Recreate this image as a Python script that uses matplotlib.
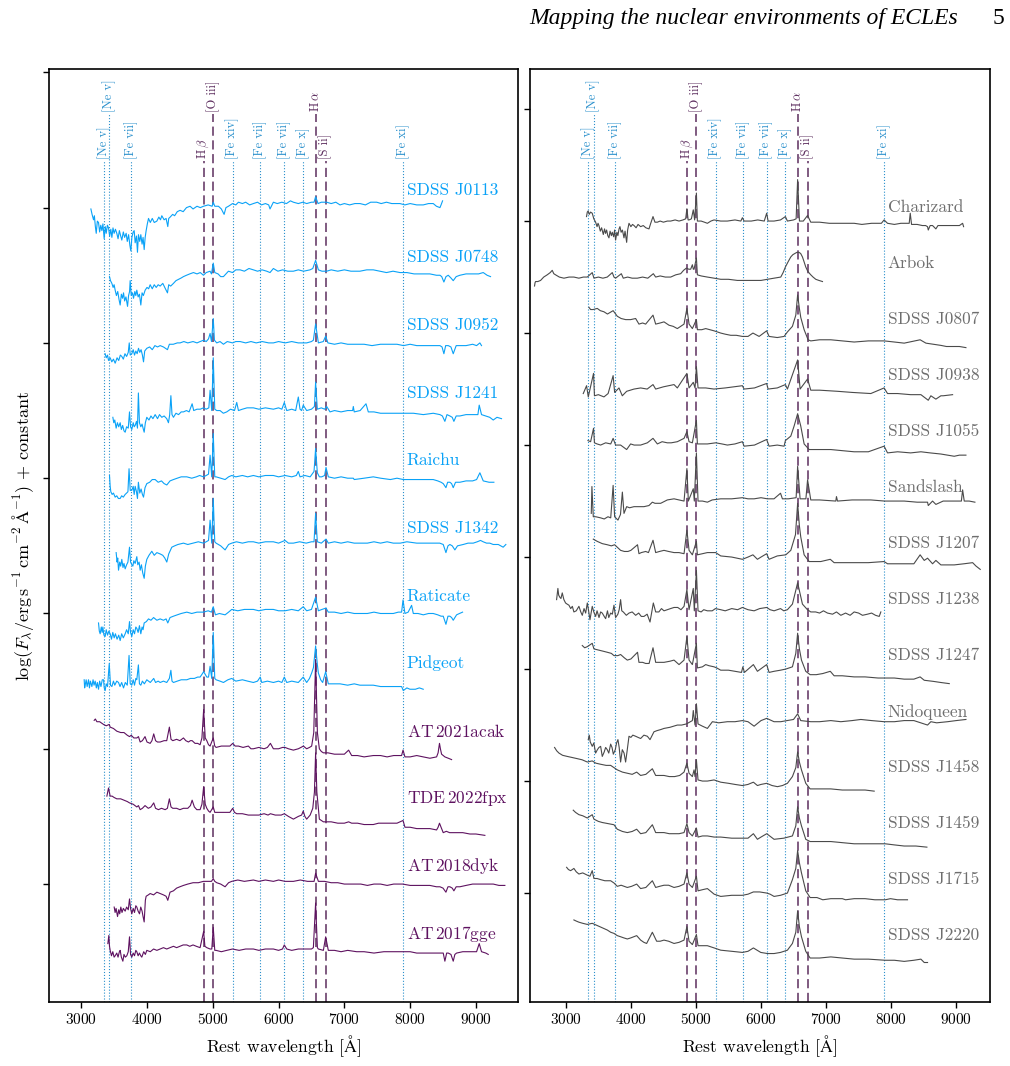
import numpy as np
import matplotlib.pyplot as plt
from matplotlib.ticker import MultipleLocator

plt.rcParams['font.family'] = 'serif'
plt.rcParams['font.serif'] = ['cmr10']
plt.rcParams['mathtext.fontset'] = 'cm'
plt.rcParams['axes.formatter.use_mathtext'] = True

# marked emission lines (rest wavelength, label, upper row?, strong line?)
line_wl = [3346, 3426, 3759, 4861, 5007, 5303, 5721, 6087, 6375, 6563, 6716, 7892]
line_names = ['[Ne v]', '[Ne v]', '[Fe vii]', r'H$\,\beta$', '[O iii]', '[Fe xiv]',
              '[Fe vii]', '[Fe vii]', '[Fe x]', r'H$\,\alpha$', '[S ii]', '[Fe xi]']
line_high = [0, 1, 0, 0, 1, 0, 0, 0, 0, 1, 0, 0]
line_strong = [0, 0, 0, 1, 1, 0, 0, 0, 0, 1, 1, 0]

# spectra: (rest wavelength [A], log flux in 0.01 dex relative to the offset)
j0113 = [(3147,-1),(3165,-5),(3187,-9),(3200,-6),(3215,-14),(3228,-19),(3245,-10),(3263,-11),(3280,-18),
         (3297,-13),(3314,-17),(3330,-12),(3349,-23),(3365,-14),(3380,-19),(3398,-13),(3415,-15),(3432,-21),
         (3450,-16),(3466,-22),(3483,-15),(3500,-19),(3520,-16),(3541,-19),(3560,-23),(3580,-17),(3600,-21),
         (3617,-24),(3640,-18),(3660,-22),(3683,-19),(3700,-25),(3720,-20),(3740,-28),(3754,-32),(3770,-22),
         (3790,-18),(3805,-17),(3820,-26),(3840,-21),(3855,-33),(3870,-20),(3890,-25),(3906,-20),(3925,-27),
         (3940,-22),(3957,-31),(3972,-22),(3987,-17),(4005,-12),(4023,-8),(4050,-11),(4080,-8),(4110,-11),
         (4149,-10),(4180,-7),(4205,-9),(4225,-6),(4260,-9),(4290,-8),(4316,-14),(4330,-8),(4352,-7),
         (4390,-5),(4420,-6),(4460,-3),(4503,-2),(4550,-3),(4600,0),(4655,1),(4700,-1),(4760,1),(4810,0),
         (4858,1),(4930,2),(4990,1),(5007,4),(5030,1),(5086,1),(5130,-1),(5172,-5),(5200,0),(5238,1),
         (5300,3),(5350,2),(5390,4),(5450,3),(5500,4),(5560,2),(5617,3),(5680,4),(5740,2),(5800,3),
         (5850,2),(5870,-1),(5890,1),(5921,4),(5980,3),(6050,4),(6120,3),(6180,5),(6225,4),(6300,3),
         (6370,4),(6427,3),(6500,4),(6539,4),(6563,8),(6600,3),(6650,4),(6731,4),(6800,3),(6870,4),
         (6934,2),(7000,3),(7080,2),(7160,3),(7237,3),(7320,2),(7400,4),(7491,4),(7560,3),(7640,4),
         (7720,3),(7800,3),(7845,3),(7920,2),(8000,3),(8100,2),(8199,2),(8280,3),(8351,3),(8400,1),
         (8453,0),(8470,2),(8493,5)]
j0748 = [(3430,-1),(3445,-4),(3466,-6),(3485,-9),(3500,-7),(3516,-11),(3535,-15),(3555,-12),(3575,-18),
         (3592,-22),(3610,-14),(3628,-17),(3643,-13),(3660,-19),(3680,-16),(3704,-23),(3720,-15),(3735,-12),
         (3744,-4),(3760,-15),(3780,-13),(3795,-17),(3815,-12),(3830,-15),(3845,-11),(3865,-16),(3885,-14),
         (3906,-22),(3925,-13),(3945,-15),(3972,-11),(4000,-9),(4025,-10),(4048,-7),(4080,-10),(4110,-7),
         (4140,-9),(4170,-7),(4200,-8),(4240,-6),(4280,-10),(4311,-13),(4330,-7),(4360,-8),(4402,-6),
         (4440,-4),(4480,-3),(4520,-2),(4554,-1),(4600,0),(4650,1),(4706,2),(4760,1),(4810,2),(4858,0),
         (4900,2),(4959,3),(4980,1),(5007,9),(5030,2),(5080,1),(5120,-1),(5162,-1),(5200,1),(5238,3),
         (5300,2),(5350,4),(5415,4),(5480,3),(5550,5),(5617,4),(5680,3),(5750,4),(5820,3),(5870,2),
         (5921,5),(5990,3),(6060,4),(6140,3),(6225,3),(6300,4),(6380,3),(6478,4),(6520,5),(6563,11),
         (6605,4),(6660,3),(6731,3),(6800,4),(6900,3),(7000,4),(7100,3),(7237,3),(7340,4),(7440,4),
         (7540,3),(7640,2),(7740,3),(7845,2),(7950,2),(8060,1),(8199,1),(8300,1),(8400,0),(8453,0),
         (8480,-1),(8513,-5),(8545,-1),(8579,0),(8620,-2),(8655,-4),(8700,-1),(8756,0),(8850,1),(8959,1),
         (9040,1),(9111,2),(9170,0),(9222,-1)]
j0952 = [(3364,-8),(3380,-11),(3400,-9),(3415,-13),(3440,-11),(3465,-14),(3490,-12),(3516,-15),(3545,-11),
         (3570,-13),(3595,-9),(3617,-10),(3640,-12),(3665,-8),(3690,-10),(3715,-7),(3730,0),(3745,-9),
         (3769,-8),(3790,-5),(3810,-9),(3830,-6),(3850,-8),(3871,-4),(3890,-7),(3910,-5),(3930,-9),
         (3947,-14),(3965,-6),(3997,-4),(4040,-3),(4080,-5),(4120,-2),(4160,-3),(4200,-2),(4250,-3),
         (4311,-5),(4340,-1),(4400,-1),(4460,0),(4503,0),(4560,1),(4620,0),(4700,1),(4760,0),(4807,1),
         (4861,2),(4900,1),(4935,3),(4959,7),(4980,1),(5007,18),(5025,2),(5060,0),(5110,1),(5162,-1),
         (5220,1),(5300,0),(5350,1),(5415,1),(5500,0),(5580,1),(5660,0),(5750,1),(5850,0),(5921,0),
         (6000,1),(6100,0),(6200,1),(6300,0),(6427,0),(6500,1),(6529,2),(6563,14),(6605,0),(6680,1),
         (6716,5),(6750,0),(6850,-1),(6950,0),(7050,-1),(7187,-1),(7300,-1),(7420,-2),(7550,-1),(7693,-1),
         (7800,-1),(7900,-2),(8000,-1),(8100,-2),(8199,-2),(8320,-2),(8453,-2),(8485,-3),(8513,-8),
         (8540,-2),(8579,-2),(8620,-3),(8655,-8),(8700,-2),(8756,-2),(8850,-2),(8950,-1),(9010,-2),
         (9060,0),(9085,-2)]
j1241 = [(3481,-5),(3495,-9),(3510,-7),(3531,-13),(3550,-9),(3570,-12),(3592,-9),(3610,-14),(3630,-11),
         (3650,-15),(3668,-16),(3690,-12),(3715,-13),(3734,-1),(3750,-12),(3769,-14),(3790,-9),(3805,-12),
         (3820,-11),(3840,-8),(3855,-13),(3869,13),(3885,-9),(3906,-12),(3925,-10),(3940,-13),(3957,-16),
         (3975,-9),(3997,-5),(4030,-7),(4060,-4),(4090,-6),(4124,-3),(4160,-6),(4190,-3),(4225,-5),
         (4260,-4),(4300,-6),(4326,-9),(4345,-3),(4363,11),(4380,-3),(4402,-5),(4440,-2),(4480,-3),
         (4520,-1),(4554,-1),(4600,0),(4640,-1),(4686,5),(4710,0),(4760,1),(4810,1),(4858,2),(4900,1),
         (4940,2),(4959,15),(4984,0),(5007,39),(5030,1),(5060,0),(5110,0),(5160,-2),(5212,-1),(5270,1),
         (5330,0),(5364,6),(5390,0),(5450,1),(5520,2),(5617,2),(5700,1),(5800,2),(5921,1),(6000,2),
         (6050,1),(6087,6),(6124,0),(6200,1),(6260,0),(6300,10),(6326,1),(6350,0),(6375,4),(6427,0),
         (6500,1),(6545,3),(6563,21),(6589,1),(6650,2),(6700,1),(6731,3),(6782,-1),(6850,0),(6950,-1),
         (7050,0),(7126,0),(7136,3),(7150,-1),(7240,0),(7329,5),(7364,-1),(7450,-1),(7550,-2),(7693,-2),
         (7800,-2),(7946,-2),(8050,-2),(8200,-3),(8351,-2),(8453,-3),(8490,-4),(8528,-8),(8560,-3),
         (8604,-4),(8640,-5),(8665,-8),(8700,-4),(8756,-4),(8850,-3),(8959,-3),(9030,-3),(9050,4),
         (9085,-3),(9150,-4),(9210,-5),(9263,-7),(9320,-5),(9389,-6)]
raichu = [(3430,2),(3440,-6),(3450,-10),(3470,-12),(3490,-11),(3516,-14),(3540,-13),(3565,-15),(3592,-15),
          (3615,-13),(3640,-14),(3668,-12),(3690,-11),(3710,-10),(3727,7),(3745,-9),(3769,-9),(3790,-6),
          (3805,-12),(3820,-6),(3840,-10),(3855,-15),(3869,-3),(3890,-11),(3910,-8),(3930,-12),(3947,-14),
          (3970,-7),(3997,-4),(4040,-3),(4080,-1),(4124,-1),(4170,-3),(4220,-2),(4260,-4),(4301,-5),
          (4350,-2),(4402,-1),(4460,0),(4520,1),(4605,1),(4680,0),(4750,1),(4800,2),(4858,1),(4900,2),
          (4935,3),(4959,17),(4984,1),(5007,33),(5030,1),(5050,1),(5120,0),(5187,-1),(5240,1),(5288,2),
          (5350,1),(5450,2),(5530,1),(5617,2),(5700,1),(5800,2),(5921,2),(6000,1),(6100,2),(6200,1),
          (6270,2),(6300,5),(6326,1),(6400,2),(6480,1),(6539,5),(6563,22),(6589,4),(6620,1),(6655,1),
          (6700,2),(6721,8),(6756,1),(6850,0),(6950,1),(7050,0),(7136,0),(7150,-1),(7300,0),(7440,1),
          (7550,0),(7700,-1),(7800,0),(7896,-1),(8000,-1),(8150,-1),(8351,-1),(8420,-2),(8470,-3),
          (8503,-4),(8544,-7),(8570,-3),(8604,-3),(8630,-4),(8655,-7),(8690,-3),(8756,-3),(8850,-2),
          (8950,-2),(9010,-1),(9060,4),(9111,-2),(9200,-3),(9273,-3)]
j1342 = [(3531,-5),(3545,-12),(3555,-9),(3567,-18),(3585,-12),(3600,-15),(3617,-10),(3635,-16),(3650,-13),
         (3668,-17),(3690,-14),(3710,-12),(3734,-1),(3750,-12),(3770,-14),(3785,-15),(3800,-11),(3820,-13),
         (3845,-8),(3860,-14),(3880,-12),(3896,-18),(3915,-14),(3935,-20),(3957,-24),(3975,-15),(3997,-10),
         (4030,-7),(4073,-4),(4110,-7),(4150,-5),(4200,-6),(4240,-7),(4270,-9),(4301,-12),(4330,-6),
         (4377,-1),(4420,0),(4470,1),(4554,2),(4620,1),(4700,2),(4780,3),(4858,2),(4900,3),(4935,4),
         (4959,19),(4984,2),(5007,35),(5030,3),(5050,2),(5120,0),(5187,-3),(5240,1),(5288,2),(5360,3),
         (5450,2),(5540,3),(5617,3),(5700,2),(5800,3),(5921,3),(6000,2),(6098,4),(6150,2),(6225,2),
         (6320,3),(6420,2),(6500,3),(6539,3),(6563,24),(6589,3),(6650,2),(6721,5),(6756,2),(6850,3),
         (6950,2),(7050,3),(7150,2),(7237,2),(7350,2),(7450,3),(7550,2),(7650,3),(7744,2),(7850,2),
         (7950,3),(8100,2),(8250,2),(8351,2),(8450,2),(8503,1),(8544,-5),(8575,0),(8604,1),(8640,0),
         (8680,-3),(8720,0),(8807,1),(8880,2),(8959,2),(9020,3),(9070,4),(9110,3),(9161,2),(9210,2),
         (9263,1),(9340,1),(9414,-1),(9455,1)]
raticate = [(3263,-7),(3275,-13),(3288,-15),(3305,-10),(3318,-14),(3329,-10),(3345,-16),(3364,-17),
            (3380,-12),(3400,-16),(3420,-13),(3440,-15),(3460,-19),(3480,-14),(3501,-18),(3520,-15),
            (3545,-19),(3570,-16),(3592,-20),(3615,-15),(3640,-18),(3668,-15),(3690,-12),(3715,-15),
            (3734,-6),(3750,-14),(3769,-17),(3790,-12),(3810,-15),(3830,-10),(3845,-11),(3865,-14),
            (3885,-9),(3906,-15),(3925,-10),(3940,-12),(3957,-7),(3990,-6),(4023,-4),(4060,-5),(4100,-3),
            (4150,-5),(4200,-4),(4250,-5),(4290,-4),(4316,-7),(4350,-3),(4402,-2),(4460,-1),(4520,0),
            (4605,1),(4680,0),(4760,1),(4858,1),(4930,2),(4980,1),(5007,5),(5040,-1),(5100,0),(5187,-1),
            (5240,1),(5288,3),(5380,2),(5480,3),(5617,3),(5700,2),(5800,3),(5921,3),(6000,2),(6098,2),
            (6200,3),(6300,2),(6375,5),(6427,2),(6500,3),(6563,12),(6605,2),(6660,3),(6721,4),(6756,1),
            (6850,1),(6950,0),(7050,1),(7150,0),(7237,0),(7350,0),(7450,1),(7550,0),(7650,0),(7744,0),
            (7820,1),(7870,1),(7892,10),(7921,0),(7970,1),(8022,6),(8048,0),(8120,0),(8200,-1),(8280,0),
            (8351,0),(8420,-1),(8470,-2),(8503,-2),(8544,-8),(8575,-2),(8604,-2),(8630,-3),(8655,-5),
            (8706,-1),(8750,0),(8797,1)]
pidgeot = [(3045,1),(3052,-5),(3060,-3),(3075,1),(3090,-4),(3111,1),(3125,-5),(3140,0),(3162,-4),(3180,1),
           (3195,-3),(3212,0),(3230,-5),(3245,-1),(3263,-6),(3280,0),(3300,-4),(3320,1),(3339,1),(3350,-5),
           (3364,-7),(3380,-2),(3400,-4),(3426,13),(3445,-3),(3466,-4),(3490,0),(3510,-3),(3540,0),(3567,-1),
           (3590,-4),(3615,-1),(3643,-5),(3670,-1),(3700,-3),(3727,19),(3745,-2),(3769,-3),(3790,1),
           (3810,-3),(3830,2),(3845,1),(3869,12),(3885,-2),(3906,-3),(3930,0),(3960,-2),(3997,1),(4050,-1),
           (4102,2),(4130,-1),(4170,0),(4200,-1),(4250,0),(4300,-1),(4340,2),(4363,8),(4380,0),(4402,-1),
           (4460,0),(4520,1),(4605,1),(4660,2),(4720,2),(4770,3),(4807,3),(4835,5),(4861,7),(4885,5),
           (4909,3),(4935,3),(4959,11),(4984,2),(5007,36),(5030,2),(5050,1),(5110,0),(5162,-1),(5230,1),
           (5288,2),(5350,0),(5450,1),(5530,0),(5617,-1),(5680,0),(5721,3),(5744,-1),(5830,0),(5921,-1),
           (6000,0),(6050,-1),(6087,3),(6124,-1),(6200,0),(6300,-1),(6375,3),(6427,-1),(6470,2),(6503,6),
           (6530,10),(6563,26),(6590,12),(6605,6),(6640,1),(6670,-1),(6716,7),(6756,-2),(6850,-2),
           (6934,-2),(7050,-3),(7150,-2),(7237,-3),(7350,-3),(7440,-3),(7550,-4),(7693,-4),(7780,-4),
           (7870,-4),(7896,-7),(7950,-5),(7997,-6),(8080,-6),(8140,-5),(8199,-6)]
at2021acak = [(3197,21),(3215,22),(3238,20),(3280,20),(3339,18),(3380,17),(3426,18),(3440,16),(3490,15),
              (3541,13),(3600,12),(3650,12),(3700,10),(3734,9),(3760,10),(3800,8),(3845,8),(3870,9),
              (3896,5),(3930,6),(3970,9),(4000,5),(4048,4),(4075,6),(4102,11),(4130,6),(4159,5),(4200,5),
              (4260,6),(4300,6),(4340,16),(4365,7),(4392,6),(4450,7),(4500,6),(4554,8),(4590,6),(4630,5),
              (4660,6),(4686,6),(4730,4),(4770,4),(4807,3),(4835,8),(4861,29),(4885,8),(4909,6),(4935,3),
              (4959,2),(5007,8),(5030,2),(5050,1),(5130,2),(5212,2),(5260,2),(5303,4),(5340,2),(5390,2),
              (5460,1),(5541,2),(5580,0),(5617,0),(5700,1),(5780,0),(5830,1),(5876,4),(5921,0),(6000,0),
              (6060,1),(6098,1),(6150,0),(6225,-1),(6300,0),(6340,1),(6377,2),(6427,0),(6470,1),(6503,2),
              (6535,12),(6563,66),(6590,12),(6620,0),(6650,-2),(6681,-3),(6750,-3),(6850,-4),(6934,-4),
              (7000,-4),(7065,-1),(7111,-5),(7200,-5),(7300,-6),(7440,-5),(7550,-5),(7650,-6),(7750,-5),
              (7870,-5),(7892,-1),(7921,-6),(8000,-6),(8100,-5),(8199,-6),(8300,-7),(8402,-6),(8425,-3),
              (8446,4),(8460,0),(8478,-4),(8528,-6),(8580,-7),(8630,-8)]
tde2022fpx = [(3390,15),(3415,21),(3440,15),(3470,15),(3500,14),(3541,13),(3600,13),(3650,12),(3700,11),
              (3734,10),(3790,9),(3845,7),(3870,8),(3896,5),(3930,6),(3970,8),(4020,6),(4060,7),(4102,10),
              (4130,6),(4174,5),(4220,6),(4276,5),(4310,6),(4340,13),(4365,7),(4392,6),(4450,6),(4500,5),
              (4554,6),(4620,6),(4660,8),(4686,12),(4720,7),(4757,5),(4807,5),(4835,9),(4861,22),(4885,9),
              (4909,6),(4935,4),(4959,3),(5007,7),(5030,3),(5050,3),(5130,3),(5212,3),(5260,3),(5303,6),
              (5330,3),(5364,2),(5450,2),(5540,1),(5617,1),(5700,1),(5780,2),(5840,1),(5876,2),(5950,1),
              (6040,1),(6087,2),(6150,0),(6225,-2),(6300,0),(6350,1),(6375,4),(6400,0),(6427,-2),(6480,1),
              (6520,6),(6545,18),(6563,47),(6582,18),(6605,6),(6620,-2),(6681,-4),(6800,-4),(6900,-5),
              (7000,-5),(7065,-4),(7111,-5),(7200,-5),(7300,-6),(7440,-6),(7520,-5),(7617,-5),(7700,-5),
              (7800,-5),(7892,-3),(7921,-8),(8000,-8),(8100,-9),(8199,-9),(8300,-9),(8402,-10),(8425,-8),
              (8446,-5),(8470,-8),(8503,-12),(8550,-11),(8600,-12),(8706,-12),(8800,-12),(8908,-13),
              (9000,-13),(9136,-14)]
at2018dyk = [(3501,-17),(3515,-21),(3530,-18),(3552,-24),(3570,-19),(3585,-22),(3602,-17),(3620,-21),
             (3640,-18),(3668,-20),(3690,-17),(3715,-19),(3734,-11),(3750,-18),(3769,-22),(3790,-18),
             (3810,-21),(3830,-16),(3845,-17),(3865,-20),(3886,-22),(3905,-17),(3925,-20),(3940,-24),
             (3957,-28),(3975,-12),(3987,-9),(4020,-8),(4048,-7),(4100,-8),(4150,-6),(4200,-7),(4250,-8),
             (4290,-9),(4316,-12),(4350,-6),(4402,-5),(4450,-3),(4500,-2),(4554,-1),(4620,0),(4700,1),
             (4780,1),(4858,2),(4930,2),(4980,2),(5007,4),(5030,2),(5060,1),(5120,0),(5187,-2),(5240,1),
             (5288,2),(5380,3),(5480,2),(5617,3),(5700,2),(5800,3),(5921,2),(6000,3),(6100,2),(6225,2),
             (6330,3),(6440,2),(6540,2),(6563,8),(6605,2),(6700,2),(6800,1),(6900,1),(7000,0),(7136,0),
             (7250,0),(7350,-1),(7450,0),(7550,0),(7650,-1),(7750,0),(7886,0),(8000,-1),(8100,-1),(8199,-1),
             (8300,-1),(8400,-2),(8453,-2),(8500,-3),(8544,-6),(8575,-2),(8604,-2),(8640,-3),(8665,-5),
             (8700,-2),(8756,-2),(8850,-1),(8950,0),(9060,0),(9150,0),(9263,0),(9350,-1),(9440,-1)]
at2017gge = [(3405,6),(3420,12),(3430,4),(3440,1),(3460,-3),(3480,0),(3500,-4),(3516,-3),(3540,-1),
             (3560,-4),(3580,0),(3592,1),(3610,-4),(3633,-7),(3650,-2),(3670,-4),(3693,-3),(3715,0),
             (3734,11),(3750,-2),(3769,-4),(3790,-1),(3810,-3),(3830,1),(3845,0),(3865,-3),(3885,-1),
             (3905,-3),(3921,-4),(3950,0),(3975,-2),(3997,1),(4050,0),(4100,2),(4150,1),(4200,2),(4250,3),
             (4300,2),(4350,3),(4402,4),(4450,3),(4500,4),(4550,5),(4605,5),(4650,4),(4700,5),(4750,4),
             (4807,3),(4861,15),(4880,4),(4909,3),(4959,2),(4985,2),(5007,18),(5030,1),(5050,1),(5130,0),
             (5212,1),(5300,2),(5400,1),(5500,2),(5617,2),(5700,1),(5800,2),(5921,2),(6000,1),(6060,2),
             (6087,5),(6124,2),(6200,1),(6300,2),(6427,2),(6500,2),(6529,3),(6563,36),(6590,3),(6605,2),
             (6681,1),(6716,11),(6756,1),(6850,1),(6950,0),(7050,1),(7187,0),(7300,0),(7450,-1),(7600,0),
             (7750,0),(7886,0),(8000,0),(8100,-1),(8199,-1),(8300,-1),(8400,-1),(8503,-1),(8528,-7),
             (8555,-1),(8579,-1),(8620,-2),(8655,-7),(8680,-2),(8706,-1),(8800,0),(8900,0),(9010,0),
             (9050,6),(9085,0),(9150,-1),(9187,-2)]

charizard = [(3318,4),(3330,8),(3343,9),(3360,6),(3380,8),(3406,7),(3430,2),(3458,-1),(3480,-5),(3495,-2),
             (3509,-4),(3530,-9),(3550,-6),(3576,-12),(3595,-7),(3610,-11),(3627,-8),(3645,-13),(3663,-15),
             (3680,-9),(3700,-13),(3714,-10),(3735,-14),(3750,-8),(3765,-17),(3785,-10),(3800,-13),
             (3818,-7),(3832,-5),(3850,-10),(3870,-8),(3894,-15),(3910,-9),(3935,-19),(3950,-8),(3971,-2),
             (4000,-5),(4025,-3),(4048,-4),(4080,-6),(4110,-3),(4150,-5),(4190,-4),(4230,-6),(4278,-7),
             (4305,-2),(4340,4),(4370,-1),(4407,-1),(4450,0),(4500,-1),(4560,0),(4612,0),(4680,1),(4740,0),
             (4800,1),(4842,2),(4861,11),(4880,1),(4894,1),(4930,2),(4959,10),(4980,1),(5007,25),(5022,0),
             (5080,0),(5130,-1),(5176,-2),(5230,0),(5278,1),(5380,0),(5483,0),(5600,1),(5690,0),(5714,3),
             (5740,0),(5850,0),(5950,1),(6050,0),(6087,7),(6109,0),(6200,0),(6300,1),(6375,4),(6406,0),
             (6500,1),(6540,2),(6563,37),(6591,0),(6650,0),(6716,5),(6765,-1),(6900,-1),(7050,-2),
             (7176,-2),(7300,-2),(7432,-2),(7550,-3),(7700,-2),(7850,-2),(7892,1),(7945,-2),(8050,-3),
             (8150,-2),(8278,-2),(8294,7),(8314,-3),(8400,-3),(8480,-4),(8530,-4),(8560,-5),(8571,-8),
             (8600,-4),(8637,-4),(8688,-7),(8720,-4),(8765,-4),(8850,-4),(8970,-4),(9050,-4),(9099,-2),
             (9114,-5)]
arbok = [(2519,-8),(2527,-5),(2535,-4),(2570,-4),(2612,-3),(2660,0),(2714,2),(2760,4),(2791,6),(2815,3),
         (2842,2),(2900,0),(2971,-1),(3050,0),(3124,0),(3200,-1),(3270,0),(3330,0),(3406,4),(3432,-1),
         (3500,0),(3570,-1),(3637,0),(3714,4),(3740,0),(3765,-1),(3853,3),(3883,-1),(3950,0),(4020,-1),
         (4099,-1),(4180,0),(4260,-1),(4345,3),(4381,0),(4450,1),(4530,0),(4612,0),(4690,2),(4765,3),
         (4810,6),(4853,8),(4890,7),(4919,7),(4945,11),(4960,7),(4971,7),(5007,17),(5022,2),(5080,1),
         (5176,0),(5280,-1),(5381,-2),(5500,-2),(5637,-3),(5760,-3),(5894,-3),(6000,-3),(6099,-2),
         (6200,-1),(6304,0),(6340,4),(6375,9),(6420,14),(6458,18),(6490,20),(6519,21),(6550,22),(6586,22),
         (6610,21),(6637,18),(6660,14),(6688,9),(6720,5),(6765,2),(6800,0),(6842,-2),(6890,-3),(6945,-4)]
j0807 = [(3355,23),(3381,21),(3420,21),(3483,22),(3530,20),(3586,19),(3640,17),(3727,20),(3791,15),
         (3850,13),(3920,12),(3996,12),(4073,13),(4124,8),(4180,9),(4227,8),(4340,16),(4381,8),(4450,9),
         (4509,10),(4586,7),(4650,6),(4714,4),(4817,8),(4861,22),(4894,8),(4945,4),(5007,12),(5022,3),
         (5090,3),(5150,4),(5278,2),(5381,0),(5450,-1),(5535,-2),(5620,-2),(5714,-3),(5800,-3),(5876,0),
         (5971,-3),(6087,2),(6124,-3),(6250,-4),(6355,-3),(6406,1),(6483,6),(6535,16),(6563,34),(6590,22),
         (6611,14),(6663,3),(6724,-6),(6765,-7),(6900,-6),(7073,-6),(7250,-7),(7432,-8),(7650,-7),
         (7894,-7),(8050,-8),(8201,-9),(8446,-6),(8535,-9),(8650,-10),(8765,-11),(8850,-12),(8970,-12),
         (9050,-12),(9150,-13)]
j0938 = [(3268,-4),(3319,3),(3345,-7),(3426,14),(3440,-6),(3500,-5),(3586,-7),(3650,-4),(3727,12),(3750,-3),
         (3817,1),(3868,-6),(3935,-2),(4048,0),(4150,1),(4250,0),(4340,4),(4381,0),(4500,2),(4663,4),
         (4714,1),(4861,14),(4894,1),(4959,6),(4986,1),(5007,20),(5032,1),(5150,1),(5278,0),(5450,1),
         (5714,3),(5740,0),(5900,1),(6087,5),(6109,0),(6250,1),(6375,4),(6406,0),(6563,26),(6601,0),
         (6716,9),(6765,-1),(6900,-1),(7176,-2),(7400,-3),(7688,-4),(7892,1),(7945,-4),(8100,-4),(8300,-5),
         (8458,-5),(8571,-10),(8611,-6),(8688,-9),(8765,-6),(8800,-6),(8945,-5)]
j1055 = [(3340,4),(3381,3),(3426,15),(3440,2),(3480,1),(3535,0),(3612,2),(3690,1),(3727,6),(3765,0),
         (3842,0),(3935,-4),(3996,1),(4050,0),(4150,0),(4253,2),(4340,6),(4407,1),(4480,3),(4560,2),
         (4620,2),(4714,3),(4817,6),(4861,12),(4894,3),(4945,2),(5007,22),(5022,1),(5100,1),(5176,1),
         (5304,2),(5400,1),(5483,0),(5600,1),(5714,3),(5740,-1),(5900,0),(6087,5),(6124,-1),(6250,0),
         (6355,-1),(6375,4),(6458,8),(6509,17),(6563,28),(6611,17),(6663,1),(6740,-4),(6900,-4),(7073,-4),
         (7250,-5),(7432,-6),(7650,-6),(7892,-1),(7945,-7),(8100,-6),(8300,-7),(8458,-6),(8600,-7),
         (8765,-8),(8970,-10),(9050,-9),(9150,-9)]
sandslash = [(3391,-11),(3401,13),(3422,-14),(3460,-14),(3535,-15),(3590,-16),(3648,-14),(3690,-15),
             (3727,14),(3750,-14),(3801,-17),(3840,-12),(3869,8),(3894,-11),(3935,-5),(3980,-6),(4048,-5),
             (4110,-5),(4201,-5),(4278,-4),(4330,-1),(4370,-2),(4458,-2),(4560,1),(4663,2),(4740,1),
             (4817,0),(4861,29),(4883,0),(4959,11),(4975,0),(5007,43),(5032,0),(5100,0),(5176,-1),
             (5250,1),(5381,2),(5550,2),(5714,3),(5800,2),(5894,2),(6000,3),(6099,2),(6200,2),(6300,7),
             (6329,2),(6420,2),(6540,3),(6563,31),(6601,2),(6690,2),(6716,19),(6765,1),(6900,1),(7150,0),
             (7160,4),(7176,0),(7400,1),(7688,1),(7900,0),(8201,0),(8400,-1),(8560,-1),(8571,-4),(8637,0),
             (8688,-3),(8800,0),(8970,0),(9080,0),(9099,10),(9124,0),(9200,0),(9288,-1)]
j1207 = [(3422,16),(3483,14),(3560,12),(3637,11),(3700,10),(3750,11),(3842,6),(3900,5),(3955,5),(4000,6),
         (4102,11),(4124,3),(4160,4),(4227,5),(4270,4),(4340,15),(4381,4),(4440,5),(4509,6),(4580,5),
         (4663,4),(4740,4),(4817,3),(4861,24),(4894,6),(4945,2),(5007,14),(5022,2),(5100,3),(5176,4),
         (5250,4),(5304,4),(5381,1),(5550,0),(5714,-2),(5800,0),(5876,2),(5945,-2),(6000,0),(6087,3),
         (6124,-2),(6250,1),(6381,2),(6458,6),(6530,20),(6563,48),(6590,28),(6611,18),(6663,2),(6740,-4),
         (6840,-4),(6919,-4),(7065,-2),(7124,-5),(7250,-5),(7432,-5),(7650,-5),(7892,-4),(7945,-6),
         (8050,-6),(8201,-6),(8350,-6),(8446,2),(8509,-3),(8560,-1),(8637,-6),(8688,-3),(8765,-7),
         (8850,-7),(8970,-7),(9120,-6),(9253,-5),(9304,-8),(9370,-11)]
j1238 = [(2858,12),(2878,22),(2890,16),(2909,14),(2925,13),(2945,18),(2970,12),(2996,9),(3020,8),(3048,7),
         (3075,4),(3100,6),(3124,1),(3160,2),(3201,6),(3230,1),(3253,-2),(3280,4),(3305,0),(3330,9),
         (3350,2),(3371,-6),(3406,6),(3430,1),(3458,-3),(3480,2),(3510,-4),(3535,1),(3560,0),(3590,-3),
         (3612,-5),(3640,2),(3660,-4),(3689,0),(3715,-1),(3740,7),(3765,-4),(3800,-1),(3820,3),(3842,12),
         (3860,2),(3883,1),(3930,-2),(3971,0),(4020,1),(4073,-2),(4120,0),(4160,-3),(4201,-3),(4250,-1),
         (4294,-8),(4345,9),(4381,1),(4430,1),(4470,4),(4509,2),(4560,3),(4610,4),(4663,5),(4720,5),
         (4770,3),(4817,6),(4861,21),(4894,3),(4959,22),(4975,2),(5007,38),(5032,2),(5080,1),(5120,3),
         (5176,2),(5250,2),(5300,4),(5381,3),(5450,2),(5550,4),(5640,3),(5714,5),(5800,3),(5894,2),
         (5980,4),(6087,5),(6140,3),(6201,2),(6300,4),(6350,2),(6406,3),(6483,8),(6563,27),(6637,8),
         (6714,3),(6765,1),(6840,1),(6900,0),(6960,2),(7022,0),(7100,-1),(7160,1),(7227,-2),(7300,0),
         (7370,-2),(7432,1),(7500,0),(7560,-2),(7637,-1),(7700,0),(7760,-2),(7817,-3),(7842,1)]
j1247 = [(3253,21),(3290,19),(3330,20),(3406,23),(3432,18),(3500,17),(3570,16),(3637,15),(3700,14),
         (3740,12),(3800,12),(3842,13),(3900,10),(3945,8),(4000,9),(4102,15),(4124,6),(4180,6),(4227,5),
         (4280,5),(4340,19),(4381,6),(4440,6),(4509,6),(4600,7),(4663,8),(4740,4),(4817,8),(4861,29),
         (4894,8),(4945,4),(5007,23),(5022,1),(5100,2),(5150,4),(5200,3),(5278,2),(5320,1),(5381,-1),
         (5500,-1),(5600,-2),(5700,-3),(5721,2),(5745,-3),(5883,4),(5945,-2),(6087,4),(6124,-3),(6200,-2),
         (6300,-1),(6381,0),(6483,2),(6535,14),(6563,32),(6590,18),(6622,8),(6688,-2),(6755,-5),(6850,-5),
         (6950,-4),(7065,-2),(7124,-6),(7250,-6),(7432,-7),(7600,-7),(7800,-8),(7909,-8),(8050,-8),
         (8201,-9),(8350,-9),(8446,-7),(8509,-10),(8650,-11),(8765,-12),(8894,-13)]
nidoqueen = [(3345,-13),(3360,-9),(3375,-15),(3406,-19),(3430,-16),(3458,-25),(3485,-22),(3509,-20),
             (3535,-19),(3560,-28),(3590,-24),(3612,-20),(3637,-22),(3660,-25),(3689,-17),(3710,-20),
             (3730,-26),(3760,-22),(3780,-16),(3801,-13),(3820,-20),(3842,-33),(3868,-22),(3895,-25),
             (3919,-33),(3940,-24),(3971,-10),(4000,-11),(4030,-9),(4073,-10),(4110,-11),(4150,-12),
             (4200,-9),(4253,-10),(4294,-13),(4355,-6),(4400,-5),(4460,-4),(4509,-3),(4600,-2),(4714,0),
             (4780,0),(4853,1),(4945,4),(4959,13),(4986,0),(5007,19),(5032,1),(5100,-1),(5176,-3),(5253,3),
             (5350,2),(5483,3),(5600,3),(5714,4),(5800,3),(5894,-1),(6000,4),(6088,6),(6200,3),(6304,3),
             (6400,4),(6500,5),(6563,10),(6611,4),(6765,3),(6900,3),(7073,4),(7227,3),(7400,4),(7535,5),
             (7700,4),(7894,3),(8050,3),(8201,4),(8350,4),(8560,0),(8611,3),(8700,2),(8868,3),(9000,4),
             (9150,5)]
j1458 = [(2827,30),(2860,27),(2894,25),(2950,23),(3022,22),(3100,21),(3176,20),(3250,19),(3330,17),
         (3406,18),(3460,16),(3535,15),(3620,14),(3689,14),(3740,12),(3791,10),(3870,8),(3945,7),(4020,6),
         (4089,8),(4150,5),(4230,6),(4330,11),(4381,5),(4440,5),(4509,5),(4590,4),(4673,4),(4750,5),
         (4817,8),(4861,16),(4894,7),(4945,4),(4971,10),(4986,4),(5007,19),(5032,1),(5100,0),(5176,0),
         (5278,1),(5330,0),(5381,-1),(5500,-2),(5600,-3),(5714,-4),(5800,-3),(5883,-1),(5945,-4),(6000,-3),
         (6088,-2),(6170,-4),(6253,-5),(6330,-4),(6406,-2),(6483,4),(6535,12),(6563,26),(6590,17),(6622,10),
         (6688,-2),(6755,-7),(6900,-7),(7073,-7),(7250,-8),(7432,-8),(7600,-8),(7740,-9)]
j1459 = [(3114,24),(3150,22),(3201,20),(3260,19),(3330,17),(3406,20),(3432,16),(3500,14),(3560,13),(3650,12),
         (3740,11),(3791,7),(3870,5),(3945,4),(4020,5),(4089,7),(4150,3),(4230,4),(4330,11),(4381,4),
         (4440,4),(4509,4),(4590,3),(4663,3),(4740,3),(4817,4),(4861,12),(4894,4),(4945,1),(5007,8),
         (5032,0),(5100,1),(5176,1),(5280,0),(5381,0),(5550,-1),(5714,-1),(5800,-1),(5883,3),(5945,-2),
         (6000,0),(6088,3),(6201,-2),(6350,-1),(6483,1),(6535,10),(6563,27),(6590,17),(6622,10),(6688,-2),
         (6755,-4),(6900,-4),(7073,-4),(7250,-5),(7432,-6),(7650,-6),(7909,-6),(8050,-7),(8201,-8),
         (8380,-8),(8550,-9)]
j1715 = [(3012,23),(3040,21),(3073,20),(3100,21),(3124,22),(3160,19),(3201,17),(3260,18),(3330,16),
         (3370,15),(3406,20),(3432,13),(3480,13),(3535,12),(3600,11),(3689,11),(3740,9),(3791,6),(3850,7),
         (3945,5),(4010,6),(4089,8),(4150,4),(4230,5),(4330,11),(4381,5),(4440,6),(4509,7),(4580,7),
         (4663,5),(4740,6),(4817,8),(4861,18),(4894,8),(4945,5),(5007,15),(5032,2),(5100,3),(5176,4),
         (5280,-1),(5381,-3),(5550,-2),(5714,-2),(5800,-1),(5883,1),(5980,1),(6088,0),(6140,-1),(6201,-3),
         (6300,-2),(6406,0),(6483,12),(6535,22),(6563,38),(6590,27),(6622,18),(6688,2),(6755,-4),
         (6860,-4),(6950,-6),(7073,-5),(7250,-5),(7300,-6),(7432,-5),(7600,-5),(7750,-6),(7909,-6),
         (7990,-5),(8099,-6),(8180,-6),(8252,-6)]
j2220 = [(3124,26),(3160,25),(3201,24),(3260,23),(3330,22),(3406,23),(3483,21),(3560,19),(3637,17),
         (3690,15),(3740,14),(3790,12),(3842,11),(3890,10),(3945,9),(4000,10),(4089,12),(4150,8),(4200,6),
         (4242,5),(4330,15),(4396,7),(4450,7),(4509,8),(4580,7),(4663,5),(4740,6),(4817,8),(4861,20),
         (4894,7),(4945,4),(5007,13),(5032,3),(5100,3),(5176,3),(5280,1),(5381,-1),(5550,-2),(5714,-3),
         (5800,-2),(5883,1),(5996,-3),(6100,-4),(6201,-4),(6300,-3),(6406,-1),(6483,5),(6535,15),(6563,34),
         (6590,20),(6622,11),(6688,-2),(6755,-8),(6900,-8),(7073,-7),(7250,-8),(7432,-9),(7650,-9),
         (7909,-10),(8050,-10),(8201,-11),(8350,-10),(8458,-9),(8509,-12),(8560,-12)]

left_names = ['SDSS J0113', 'SDSS J0748', 'SDSS J0952', 'SDSS J1241', 'Raichu', 'SDSS J1342',
              'Raticate', 'Pidgeot', r'AT$\,$2021acak', r'TDE$\,$2022fpx', r'AT$\,$2018dyk', r'AT$\,$2017gge']
left_spectra = [j0113, j0748, j0952, j1241, raichu, j1342, raticate, pidgeot,
                at2021acak, tde2022fpx, at2018dyk, at2017gge]
left_offsets = [5.0, 4.5, 4.0, 3.5, 3.0, 2.5, 2.0, 1.5, 1.0, 0.5, 0.0, -0.5]
left_is_tde = [0, 0, 0, 0, 0, 0, 0, 0, 1, 1, 1, 1]

right_names = ['Charizard', 'Arbok', 'SDSS J0807', 'SDSS J0938', 'SDSS J1055', 'Sandslash',
               'SDSS J1207', 'SDSS J1238', 'SDSS J1247', 'Nidoqueen', 'SDSS J1458', 'SDSS J1459',
               'SDSS J1715', 'SDSS J2220']
right_spectra = [charizard, arbok, j0807, j0938, j1055, sandslash, j1207, j1238, j1247,
                 nidoqueen, j1458, j1459, j1715, j2220]
right_offsets = [6.0, 5.5, 5.0, 4.5, 4.0, 3.5, 3.0, 2.5, 2.0, 1.5, 1.0, 0.5, 0.0, -0.5]

ecle_blue = '#0aa2f7'
tde_purple = '#5e1260'
gray = '#4a4a4a'
line_blue = '#2a90cc'
line_purple = '#5c2d5e'


def mark_lines(ax):
    for w, name, high, strong in zip(line_wl, line_names, line_high, line_strong):
        top = 0.952 if high else 0.902
        col = line_purple if strong else line_blue
        if strong:
            ax.axvline(w, ymax=top, color=col, ls=(0, (6, 3)), lw=1.1, zorder=1)
        else:
            ax.axvline(w, ymax=top, color=col, ls=':', lw=0.8, zorder=1)
        ax.text(w, top + 0.002, name, transform=ax.get_xaxis_transform(), rotation=90,
                ha='center', va='bottom', fontsize=9, color=col)


def style(ax, xlim, ylim):
    ax.set_xlim(*xlim)
    ax.set_ylim(*ylim)
    ax.set_xticks(range(3000, 9001, 1000))
    ax.yaxis.set_major_locator(MultipleLocator(1))
    ax.tick_params(direction='out', length=4, width=1, labelsize=11, labelleft=False)
    for s in ax.spines.values():
        s.set_linewidth(1.2)
    ax.set_xlabel(r'Rest wavelength [$\mathrm{\AA}$]', fontsize=12.7)


def draw(ax, spec, off, col):
    wl, fl = np.array(sorted(spec), dtype=float).T
    ax.plot(wl, off + fl / 100, color=col, lw=0.8, zorder=3)


fig = plt.figure(figsize=(10.1, 10.66), dpi=100)
axl = fig.add_axes([0.0485, 0.0600, 0.4644, 0.8752])
axr = fig.add_axes([0.5248, 0.0600, 0.4554, 0.8752])

for ax in (axl, axr):
    mark_lines(ax)

for name, spec, off, tde in zip(left_names, left_spectra, left_offsets, left_is_tde):
    col = tde_purple if tde else ecle_blue
    draw(axl, spec, off, col)
    axl.text(7950, off + 0.13, name, color=col, fontsize=12.5, va='center', ha='left')

for name, spec, off in zip(right_names, right_spectra, right_offsets):
    draw(axr, spec, off, gray)
    axr.text(7950, off + 0.12, name, color='#6e6e6e', fontsize=12.5, va='center', ha='left')

style(axl, (2510, 9640), (-0.872, 6.024))
style(axr, (2450, 9520), (-0.973, 7.357))

axl.set_ylabel(r'$\log(F_\lambda/\mathrm{erg\,s^{-1}\,cm^{-2}\,\AA^{-1}})$ + constant',
               fontsize=13, labelpad=5)

fig.text(0.949, 0.983, 'Mapping the nuclear environments of ECLEs', ha='right', va='center',
         family='Liberation Serif', style='italic', fontsize=17)
fig.text(0.989, 0.983, '5', ha='center', va='center', family='Liberation Serif', fontsize=17)

fig.savefig('out.png', dpi=100)
